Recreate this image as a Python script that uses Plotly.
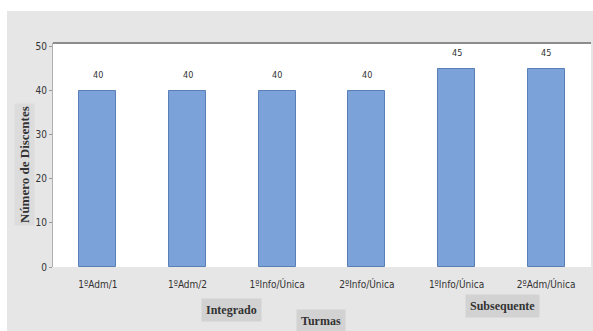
import plotly.graph_objects as go

# Turmas e número de discentes
turmas = ["1ºAdm/1", "1ºAdm/2", "1ºInfo/Única", "2ºInfo/Única", "1ºInfo/Única", "2ºAdm/Única"]
discentes = [40, 40, 40, 40, 45, 45]
y_ticks = [0, 10, 20, 30, 40, 50]

x_pos = list(range(len(turmas)))

W, H = 593, 331
L, R, T, B = 53, 2, 43, 64
PW, PH = W - L - R, H - T - B


def px(x):
    return (x - L) / PW


def py(y):
    return (H - B - y) / PH


narrow = "DejaVu Sans Condensed, Liberation Sans Narrow, sans-serif"
serif = "Liberation Serif, Times New Roman, serif"

fig = go.Figure()
fig.add_trace(go.Bar(
    x=x_pos,
    y=discentes,
    width=0.41,
    marker=dict(color="#7ba3da", line=dict(color="#5a7fb6", width=1)),
))

# value labels above each bar
value_labels = [
    dict(x=xi, y=v, text=str(v), xref="x", yref="y", showarrow=False,
         yanchor="bottom", yshift=9,
         font=dict(family=narrow, size=9, color="#333333"))
    for xi, v in zip(x_pos, discentes)
]

box_font = dict(family=serif, size=12, color="#333333")

fig.update_layout(
    width=W, height=H,
    margin=dict(l=L, r=R, t=T, b=B),
    paper_bgcolor="#e6e6e6",
    plot_bgcolor="#ffffff",
    showlegend=False,
    bargap=0,
    xaxis=dict(
        range=[-0.5, 5.5],
        tickmode="array",
        tickvals=x_pos,
        ticktext=turmas,
        tickfont=dict(family=narrow, size=10, color="#333333"),
        showgrid=False,
        zeroline=False,
        showline=False,
        ticks="",
        ticklabelstandoff=10,
    ),
    yaxis=dict(
        range=[0, 50.9],
        tickmode="array",
        tickvals=y_ticks,
        tickfont=dict(family=narrow, size=10, color="#333333"),
        showgrid=False,
        zeroline=False,
        showline=True,
        linecolor="#b0b0b0",
        linewidth=1,
        ticks="outside",
        ticklen=3,
        tickcolor="#999999",
    ),
    shapes=[
        # white margin strips around the gray panel
        dict(type="rect", xref="paper", yref="paper",
             x0=px(0), x1=px(7), y0=py(H), y1=py(0),
             fillcolor="#ffffff", line=dict(width=0), layer="below"),
        dict(type="rect", xref="paper", yref="paper",
             x0=px(0), x1=px(W), y0=py(11), y1=py(0),
             fillcolor="#ffffff", line=dict(width=0), layer="below"),
        # top border of the plot area
        dict(type="line", xref="paper", yref="paper",
             x0=0, x1=1, y0=1, y1=1,
             line=dict(color="#8c8c8c", width=2)),
    ],
    annotations=value_labels + [
        dict(text="<b>Número de Discentes</b>", xref="paper", yref="paper",
             x=px(24), y=py(165), xanchor="center", yanchor="middle",
             textangle=-90, showarrow=False,
             font=dict(family=serif, size=13, color="#333333"),
             bgcolor="#dcdcdc", borderpad=2),
        dict(text="<b>Integrado</b>", xref="paper", yref="paper",
             x=px(231), y=py(310), xanchor="center", yanchor="middle",
             showarrow=False, font=box_font,
             bgcolor="#d2d2d2", borderpad=4),
        dict(text="<b>Turmas</b>", xref="paper", yref="paper",
             x=px(321), y=py(321), xanchor="center", yanchor="middle",
             showarrow=False, font=box_font,
             bgcolor="#d2d2d2", borderpad=4),
        dict(text="<b>Subsequente</b>", xref="paper", yref="paper",
             x=px(502), y=py(306), xanchor="center", yanchor="middle",
             showarrow=False, font=box_font,
             bgcolor="#d2d2d2", borderpad=4),
    ],
)

fig.write_html("out.html")
